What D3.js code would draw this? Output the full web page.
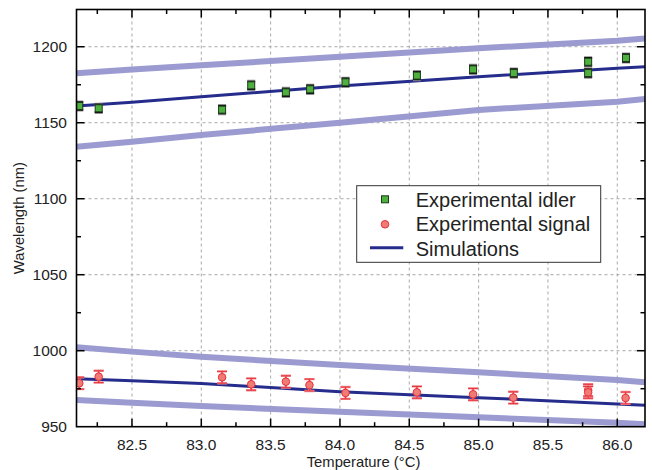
<!DOCTYPE html>
<html>
<head>
<meta charset="utf-8">
<script src="https://cdn.jsdelivr.net/npm/d3@7"></script>
<style>
  body { margin: 0; background: #fff; }
  svg { display: block; font-family: "Liberation Sans", Arial, sans-serif; }
  .grid line { stroke: #a8a8a8; stroke-dasharray: 3,3; stroke-width: 1; }
</style>
</head>
<body>
<svg id="chart" width="652" height="470"></svg>
<script>
// measured idler points (temperature, wavelength)
const idlerT = [82.12, 82.26, 83.15, 83.36, 83.61, 83.785, 84.04, 84.555, 84.96, 85.254, 85.79, 85.79, 86.063]
const idlerW = [1161, 1159.5, 1158.6, 1174.6, 1170, 1172, 1176.6, 1181, 1185.1, 1182.7, 1190.1, 1182.7, 1192.6]
const idlerErr = 2.7

// measured signal points
const signalT = [82.12, 82.26, 83.15, 83.36, 83.61, 83.78, 84.04, 84.555, 84.96, 85.25, 85.79, 85.79, 86.06]
const signalW = [978.6, 982.9, 982.5, 977.9, 979.6, 977.4, 972.2, 972.6, 971.3, 969.1, 974, 972.6, 968.9]
const signalErr = 3.9

// simulation curves
const simT = [82.1, 82.5, 83.0, 84.0, 85.0, 86.0, 86.2]
const simIdler = [1161, 1163.5, 1167.1, 1174.1, 1180.3, 1185.8, 1186.8]
const simIdlerHi = [1182.5, 1185, 1187.8, 1193.4, 1199, 1204, 1205.5]
const simIdlerLo = [1134.2, 1137.5, 1141.9, 1150, 1158.4, 1163.8, 1165.6]
const simSignal = [981.6, 980.2, 978.5, 973, 969.1, 965, 964.1]
const simSignalHi = [1002.2, 999.4, 996, 990.6, 985.8, 980.7, 979.2]
const simSignalLo = [967.6, 965.8, 963.6, 959.9, 956.2, 952.6, 951.6]

const xTicks = [82.5, 83.0, 83.5, 84.0, 84.5, 85.0, 85.5, 86.0]
const yTicks = [950, 1000, 1050, 1100, 1150, 1200]

const plot = { left: 76.5, top: 9.5, right: 645, bottom: 426.7 }

const svg = d3.select('#chart')
const x = d3.scaleLinear().domain([82.1, 86.2]).range([plot.left, plot.right])
const y = d3.scaleLinear().domain([950, 1224.5]).range([plot.bottom, plot.top])

// grid
const grid = svg.append('g').attr('class', 'grid')
grid.selectAll('.gx').data(xTicks).join('line')
    .attr('x1', d => x(d)).attr('x2', d => x(d))
    .attr('y1', plot.top).attr('y2', plot.bottom)
grid.selectAll('.gy').data(yTicks.filter(d => d > 950)).join('line')
    .attr('x1', plot.left).attr('x2', plot.right)
    .attr('y1', d => y(d)).attr('y2', d => y(d))

svg.append('clipPath').attr('id', 'clip').append('rect')
    .attr('x', plot.left).attr('y', plot.top)
    .attr('width', plot.right - plot.left).attr('height', plot.bottom - plot.top)

const layer = svg.append('g').attr('clip-path', 'url(#clip)')
const line = d3.line().x(d => x(d[0])).y(d => y(d[1]))

const bands = [simIdlerHi, simIdlerLo, simSignalHi, simSignalLo]
bands.forEach(vals => {
    layer.append('path')
        .datum(simT.map((t, i) => [t, vals[i]]))
        .attr('d', line)
        .attr('fill', 'none')
        .attr('stroke', '#9b9bd1')
        .attr('stroke-width', 6)
})
;[simIdler, simSignal].forEach(vals => {
    layer.append('path')
        .datum(simT.map((t, i) => [t, vals[i]]))
        .attr('d', line)
        .attr('fill', 'none')
        .attr('stroke', '#262c8c')
        .attr('stroke-width', 3)
})

const errPath = (d, err, cap) => {
    const e = y(d.w - err) - y(d.w)
    return `M0,${-e}V${e}M${-cap},${-e}H${cap}M${-cap},${e}H${cap}`
}

// idler error bars + squares
const idler = idlerT.map((t, i) => ({ t, w: idlerW[i] }))
const ig = layer.append('g').selectAll('g').data(idler).join('g')
    .attr('transform', d => `translate(${x(d.t)},${y(d.w)})`)
ig.append('path')
    .attr('d', d => errPath(d, idlerErr, 4))
    .attr('stroke', '#909090').attr('stroke-width', 3).attr('fill', 'none')
ig.append('path')
    .attr('d', d => errPath(d, idlerErr, 4))
    .attr('stroke', '#111').attr('stroke-width', 1.2).attr('fill', 'none')
ig.append('rect')
    .attr('x', -3.5).attr('y', -3.5).attr('width', 7).attr('height', 7)
    .attr('fill', '#4fb040').attr('stroke', '#1a3a1a').attr('stroke-width', 1)

// signal error bars + circles
const signal = signalT.map((t, i) => ({ t, w: signalW[i] }))
const sg = layer.append('g').selectAll('g').data(signal).join('g')
    .attr('transform', d => `translate(${x(d.t)},${y(d.w)})`)
sg.append('path')
    .attr('d', d => errPath(d, signalErr, 5))
    .attr('stroke', '#f08a90').attr('stroke-width', 2.4).attr('fill', 'none')
sg.append('path')
    .attr('d', d => errPath(d, signalErr, 5))
    .attr('stroke', '#e8323c').attr('stroke-width', 1).attr('fill', 'none')
sg.append('circle')
    .attr('r', 3.8)
    .attr('fill', '#f07a74').attr('stroke', '#e8323c').attr('stroke-width', 1)

// axes with inward ticks on all four sides
const xMinor = d3.range(82.25, 86.2, 0.25)
const yMinor = d3.range(975, 1224, 25)
const axisG = svg.append('g').attr('stroke', '#000').attr('stroke-width', 1.5)
const isMajorX = d => xTicks.some(t => Math.abs(t - d) < 1e-6)
const tickLen = major => major ? 8 : 4.5

axisG.append('g').selectAll('line').data(xMinor).join('line')
    .attr('x1', d => x(d)).attr('x2', d => x(d))
    .attr('y1', plot.bottom).attr('y2', d => plot.bottom - tickLen(isMajorX(d)))
axisG.append('g').selectAll('line').data(xMinor).join('line')
    .attr('x1', d => x(d)).attr('x2', d => x(d))
    .attr('y1', plot.top).attr('y2', d => plot.top + tickLen(isMajorX(d)))
axisG.append('g').selectAll('line').data(yMinor).join('line')
    .attr('y1', d => y(d)).attr('y2', d => y(d))
    .attr('x1', plot.left).attr('x2', d => plot.left + tickLen(yTicks.includes(d)))
axisG.append('g').selectAll('line').data(yMinor).join('line')
    .attr('y1', d => y(d)).attr('y2', d => y(d))
    .attr('x1', plot.right).attr('x2', d => plot.right - tickLen(yTicks.includes(d)))

svg.append('rect')
    .attr('x', plot.left).attr('y', plot.top)
    .attr('width', plot.right - plot.left).attr('height', plot.bottom - plot.top)
    .attr('fill', 'none').attr('stroke', '#000').attr('stroke-width', 1.6)

// tick labels
svg.append('g').selectAll('text').data(xTicks).join('text')
    .attr('x', d => x(d)).attr('y', 449.5)
    .attr('text-anchor', 'middle').attr('font-size', 15.5).attr('fill', '#222')
    .text(d => d.toFixed(1))
svg.append('g').selectAll('text').data(yTicks).join('text')
    .attr('x', 67).attr('y', d => y(d) + 5.5)
    .attr('text-anchor', 'end').attr('font-size', 15.5).attr('fill', '#222')
    .text(d => d)

svg.append('text')
    .attr('x', x(84.17)).attr('y', 467)
    .attr('text-anchor', 'middle').attr('font-size', 14.8).attr('fill', '#222')
    .text('Temperature (°C)')
svg.append('text')
    .attr('transform', `translate(24,${(plot.top + plot.bottom) / 2}) rotate(-90)`)
    .attr('text-anchor', 'middle').attr('font-size', 14.8).attr('fill', '#222')
    .text('Wavelength (nm)')

// legend
const legend = svg.append('g')
legend.append('rect')
    .attr('x', 356.7).attr('y', 185.7).attr('width', 244).attr('height', 76.6)
    .attr('fill', '#fff').attr('stroke', '#333').attr('stroke-width', 1)
legend.append('rect')
    .attr('x', 381.5).attr('y', 195.8).attr('width', 7).attr('height', 7)
    .attr('fill', '#4fb040').attr('stroke', '#1a3a1a').attr('stroke-width', 1)
legend.append('circle')
    .attr('cx', 385).attr('cy', 224.3).attr('r', 3.8)
    .attr('fill', '#f07a74').attr('stroke', '#e8323c').attr('stroke-width', 1)
legend.append('line')
    .attr('x1', 370).attr('x2', 403.3).attr('y1', 247.7).attr('y2', 247.7)
    .attr('stroke', '#262c8c').attr('stroke-width', 3)
const legendText = ['Experimental idler', 'Experimental signal', 'Simulations']
legend.selectAll('.lt').data(legendText).join('text')
    .attr('x', 415.7).attr('y', (d, i) => 206.5 + i * 24.5)
    .attr('font-size', 20).attr('fill', '#222')
    .text(d => d)
</script>
</body>
</html>
